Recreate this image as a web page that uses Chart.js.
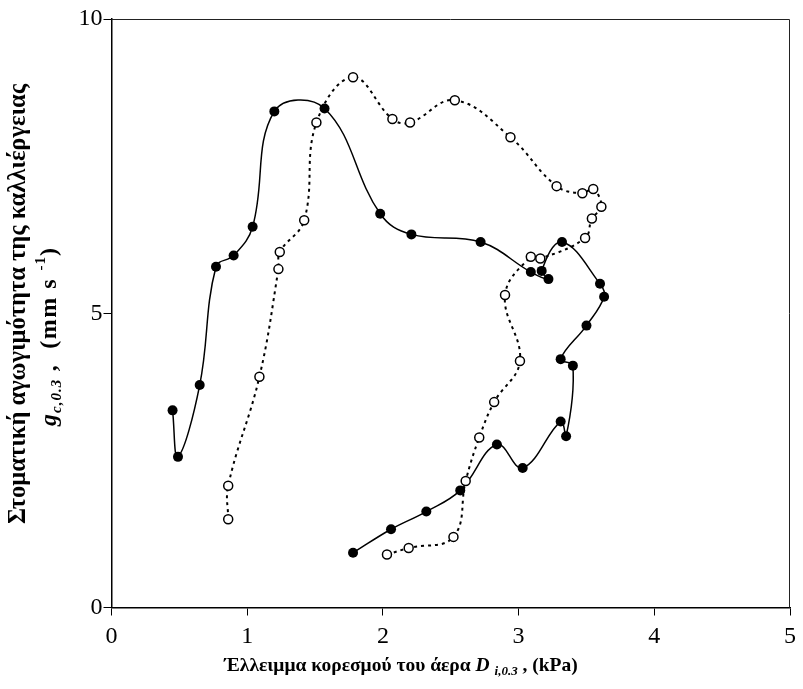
<!DOCTYPE html>
<html>
<head>
<meta charset="utf-8">
<script src="https://cdn.jsdelivr.net/npm/chart.js@4.4.1/dist/chart.umd.min.js"></script>
<style>
  body { margin: 0; background: #fff; }
</style>
</head>
<body>
<canvas id="chart" width="803" height="689"></canvas>
<script>
// filled circles, solid line
const filledX = [1.78, 2.06, 2.32, 2.57, 2.84, 3.03, 3.31, 3.35, 3.40, 3.31, 3.50, 3.63, 3.60, 3.32,
                 3.17, 3.22, 3.09, 2.72, 2.21, 1.98, 1.57, 1.20, 1.04, 0.90, 0.77, 0.65, 0.49, 0.45];
const filledY = [0.93, 1.33, 1.63, 1.99, 2.77, 2.37, 3.16, 2.91, 4.11, 4.22, 4.79, 5.28, 5.50, 6.21,
                 5.72, 5.58, 5.70, 6.21, 6.34, 6.69, 8.48, 8.43, 6.47, 5.98, 5.79, 3.78, 2.56, 3.35];

// open circles, dotted line
const openX = [0.86, 0.86, 1.09, 1.23, 1.24, 1.42, 1.51, 1.78, 2.07, 2.20, 2.53, 2.94, 3.28, 3.47,
               3.55, 3.61, 3.54, 3.49, 3.16, 3.09, 2.90, 3.01, 2.82, 2.71, 2.61, 2.52, 2.19, 2.03];
const openY = [1.50, 2.07, 3.92, 5.75, 6.04, 6.58, 8.24, 9.01, 8.30, 8.24, 8.62, 7.99, 7.16, 7.04,
               7.11, 6.81, 6.61, 6.28, 5.93, 5.96, 5.31, 4.19, 3.49, 2.89, 2.15, 1.20, 1.01, 0.90];

const xTicks = [0, 1, 2, 3, 4, 5];
const yTicks = [0, 5, 10];

const toPoints = (xs, ys) => xs.map((x, i) => ({ x: x, y: ys[i] }));

const SERIF = '"Liberation Serif", "Times New Roman", serif';

// width of a run, with optional extra space after every character
function runWidth(ctx, r) {
  ctx.font = r.font;
  const sp = r.sp || 0;
  return ctx.measureText(r.text).width + sp * r.text.length;
}

// draws a row of differently styled pieces, centered on 0
function drawRuns(ctx, runs) {
  let total = 0;
  runs.forEach(r => { total += runWidth(ctx, r); });
  let x = -total / 2;
  runs.forEach(r => {
    ctx.font = r.font;
    const sp = r.sp || 0;
    if (!sp) {
      ctx.fillText(r.text, x, r.dy || 0);
      x += ctx.measureText(r.text).width;
      return;
    }
    for (const ch of r.text) {
      ctx.fillText(ch, x, r.dy || 0);
      x += ctx.measureText(ch).width + sp;
    }
  });
}

const titles = {
  id: 'titles',
  afterDraw(chart) {
    const ctx = chart.ctx;
    const a = chart.chartArea;
    ctx.save();
    // frame
    ctx.strokeStyle = '#222';
    ctx.lineWidth = 1;
    ctx.beginPath();
    ctx.moveTo(a.left, a.top + 0.5);
    ctx.lineTo(a.right - 0.5, a.top + 0.5);
    ctx.lineTo(a.right - 0.5, a.bottom);
    ctx.stroke();

    ctx.fillStyle = '#000';
    ctx.textBaseline = 'alphabetic';
    const b = 'bold 19.5px ' + SERIF, bi = 'italic bold 19.5px ' + SERIF;
    const sub = 'italic bold 13px ' + SERIF;

    // x title
    ctx.save();
    ctx.translate(401, 671);
    drawRuns(ctx, [
      { text: 'Έλλειμμα κορεσμού του άερα ', font: b },
      { text: 'D ', font: bi },
      { text: 'i,0.3', font: sub, dy: 4 },
      { text: ' , (kPa)', font: b }
    ]);
    ctx.restore();

    // y title, line 1
    ctx.save();
    ctx.translate(25, 304);
    ctx.rotate(-Math.PI / 2);
    drawRuns(ctx, [{ text: 'Στοματική αγωγιμότητα της καλλιέργειας', font: 'bold 24.5px ' + SERIF }]);
    ctx.restore();

    // y title, line 2
    ctx.save();
    ctx.translate(56, 337);
    ctx.rotate(-Math.PI / 2);
    drawRuns(ctx, [
      { text: 'g', font: 'italic bold 24px ' + SERIF, sp: 1 },
      { text: 'c,0.3', font: 'italic bold 15px ' + SERIF, dy: 5, sp: 1 },
      { text: ' ,  (mm s ', font: 'bold 24px ' + SERIF, sp: 1.5 },
      { text: '-1', font: 'bold 15px ' + SERIF, dy: -11, sp: 1 },
      { text: ')', font: 'bold 24px ' + SERIF }
    ]);
    ctx.restore();
    ctx.restore();
  }
};

new Chart(document.getElementById('chart'), {
  type: 'scatter',
  data: {
    datasets: [
      {
        data: toPoints(openX, openY),
        showLine: true,
        tension: 0.4,
        borderColor: '#000',
        borderWidth: 2,
        borderDash: [3, 4],
        pointRadius: 4.5,
        pointBorderWidth: 1.5,
        pointBackgroundColor: '#fff',
        pointBorderColor: '#000'
      },
      {
        data: toPoints(filledX, filledY),
        showLine: true,
        tension: 0.4,
        borderColor: '#000',
        borderWidth: 1.5,
        pointRadius: 5,
        pointBorderWidth: 0,
        pointBackgroundColor: '#000',
        pointBorderColor: '#000'
      }
    ]
  },
  options: {
    responsive: false,
    animation: false,
    layout: { padding: { left: 0, right: 8, top: 19, bottom: 0 } },
    plugins: {
      legend: { display: false },
      tooltip: { enabled: false }
    },
    scales: {
      x: {
        type: 'linear',
        min: 0,
        max: 5,
        afterFit: s => { s.height = 81.5; },
        afterBuildTicks: s => { s.ticks = xTicks.map(v => ({ value: v })); },
        grid: { drawOnChartArea: false, drawTicks: true, tickLength: 8, color: '#000', lineWidth: 1 },
        border: { color: '#000', width: 1.5 },
        ticks: { color: '#000', padding: 7, font: { family: SERIF, size: 24 }, maxRotation: 0 }
      },
      y: {
        type: 'linear',
        min: 0,
        max: 10,
        afterFit: s => { s.width = 111.5; },
        afterBuildTicks: s => { s.ticks = yTicks.map(v => ({ value: v })); },
        grid: { drawOnChartArea: false, drawTicks: true, tickLength: 8, color: '#000', lineWidth: 1 },
        border: { color: '#000', width: 1.5 },
        ticks: { color: '#000', padding: 1, font: { family: SERIF, size: 24 } }
      }
    }
  },
  plugins: [titles]
});
</script>
</body>
</html>
